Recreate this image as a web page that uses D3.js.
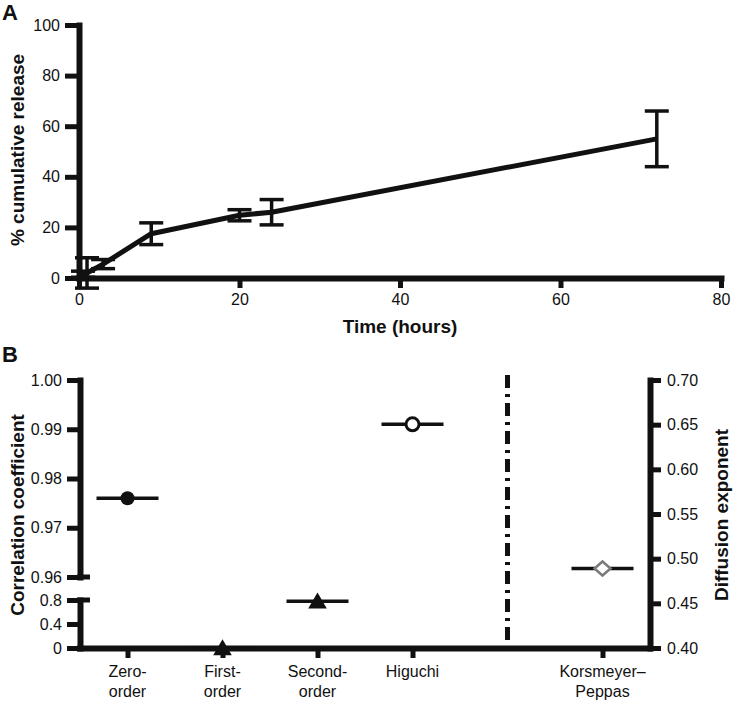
<!DOCTYPE html>
<html>
<head>
<meta charset="utf-8">
<script src="https://cdn.jsdelivr.net/npm/d3@7"></script>
<style>
  html, body { margin: 0; padding: 0; background: #fff; }
  svg text { font-family: "Liberation Sans", Arial, Helvetica, sans-serif; fill: #111; }
  svg .axis path.domain { stroke: #111; stroke-width: 6px; stroke-linecap: square; }
  svg .axis .tick line { stroke: #111; stroke-width: 5px; }
</style>
</head>
<body>
<svg id="chart" width="734" height="702"></svg>
<script>
// ---------- Panel A data ----------
const timeHours = [0, 0.5, 1, 3, 9, 20, 24, 72];
const releaseMean = [0, 1.5, 2, 5.5, 17.5, 24.8, 26, 55];
const releaseErr = [0, 1.2, 6, 1.8, 4.3, 2.2, 5, 11];
const xTicksA = [0, 20, 40, 60, 80];
const yTicksA = [0, 20, 40, 60, 80, 100];

// ---------- Panel B data ----------
const models = ["Zero-order", "First-order", "Second-order", "Higuchi", "Korsmeyer–Peppas"];
const modelLabels = [["Zero-", "order"], ["First-", "order"], ["Second-", "order"], ["Higuchi"], ["Korsmeyer–", "Peppas"]];
const correlation = [0.976, 0, 0.78, 0.991];      // zero, first, second, Higuchi
const diffusionExponent = [0.489];                 // Korsmeyer–Peppas
const yTicksHigh = [0.96, 0.97, 0.98, 0.99, 1.00];
const yTicksLow = [0, 0.4, 0.8];
const yTicksRight = [0.40, 0.45, 0.50, 0.55, 0.60, 0.65, 0.70];

const svg = d3.select("#chart");
const ink = "#111";

function styleAxis(g, fs) {
  g.attr("class", "axis");
  g.select(".domain").style("stroke", ink).style("stroke-width", "6px");
  g.selectAll(".tick line").style("stroke", ink).style("stroke-width", "5px");
  g.selectAll(".tick text").style("font-size", fs + "px").style("fill", ink)
    .style("font-family", '"Liberation Sans", Arial, Helvetica, sans-serif');
}

// ================= PANEL A =================
const xA = d3.scaleLinear([0, 80], [79, 721]);
const yA = d3.scaleLinear([0, 100], [278, 25]);
const gA = svg.append("g");

gA.append("g").attr("transform", "translate(0,278)")
  .call(d3.axisBottom(xA).tickValues(xTicksA).tickSize(10).tickSizeOuter(0).tickPadding(6).tickFormat(d3.format("d")))
  .call(g => styleAxis(g, 16));
gA.append("g").attr("transform", "translate(79,0)")
  .call(d3.axisLeft(yA).tickValues(yTicksA).tickSize(14).tickSizeOuter(0).tickPadding(5).tickFormat(d3.format("d")))
  .call(g => styleAxis(g, 16));

// line
const ptsA = timeHours.map((t, i) => ({ t, m: releaseMean[i], e: releaseErr[i] }));
gA.append("path").datum(ptsA)
  .style("fill", "none").style("stroke", ink).style("stroke-width", "5px").style("stroke-linejoin", "round")
  .attr("d", d3.line().x(d => xA(d.t)).y(d => yA(d.m)));

// error bars
const eb = gA.append("g").style("stroke", ink).style("stroke-width", "3.5px");
ptsA.filter(d => d.e > 0).forEach(d => {
  const cx = xA(d.t), top = yA(d.m + d.e), bot = yA(Math.max(d.m - d.e, -4));
  eb.append("line").attr("x1", cx).attr("x2", cx).attr("y1", top).attr("y2", bot);
  eb.append("line").attr("x1", cx - 12).attr("x2", cx + 12).attr("y1", top).attr("y2", top);
  eb.append("line").attr("x1", cx - 12).attr("x2", cx + 12).attr("y1", bot).attr("y2", bot);
});

gA.append("text").attr("x", 400).attr("y", 333).attr("text-anchor", "middle")
  .attr("font-size", 19).attr("font-weight", "bold").text("Time (hours)");
gA.append("text").attr("transform", "translate(24,150) rotate(-90)").attr("text-anchor", "middle")
  .attr("font-size", 19).attr("font-weight", "bold").text("% cumulative release");
svg.append("text").attr("x", 2).attr("y", 20).attr("font-size", 22).attr("font-weight", "bold").text("A");

// ================= PANEL B =================
const slots = ["Zero-order", "First-order", "Second-order", "Higuchi", "sep", "Korsmeyer–Peppas"];
const xB = d3.scalePoint(slots, [80, 650]).padding(0.5);
const yHi = d3.scaleLinear([0.96, 1.00], [577, 380]);
const yLo = d3.scaleLinear([0, 0.8], [648, 600]);
const yR = d3.scaleLinear([0.40, 0.70], [648, 380]);
const gB = svg.append("g");

// separator (drawn under axis)
gB.append("line").attr("x1", xB("sep")).attr("x2", xB("sep")).attr("y1", 375).attr("y2", 648)
  .style("stroke", ink).style("stroke-width", "5px").style("stroke-dasharray", "13,6,3,6");

// x axis
gB.append("g").attr("transform", "translate(0,648)")
  .call(d3.axisBottom(xB).tickValues(models).tickSize(10).tickSizeOuter(0).tickFormat(""))
  .call(g => styleAxis(g, 16))
  .call(g => g.select(".domain").attr("d", "M80,0.5H650"));

// category labels
modelLabels.forEach((lines, i) => {
  const t = gB.append("text").attr("x", xB(models[i])).attr("y", 677).attr("text-anchor", "middle").attr("font-size", 16);
  lines.forEach((s, j) => t.append("tspan").attr("x", xB(models[i])).attr("dy", j === 0 ? 0 : 20).text(s));
});

// left axis (broken)
gB.append("g").attr("transform", "translate(80,0)")
  .call(d3.axisLeft(yHi).tickValues(yTicksHigh).tickSize(13).tickSizeOuter(0).tickPadding(5).tickFormat(d3.format(".2f")))
  .call(g => styleAxis(g, 16));
gB.append("g").attr("transform", "translate(80,0)")
  .call(d3.axisLeft(yLo).tickValues(yTicksLow).tickSize(13).tickSizeOuter(0).tickPadding(5).tickFormat(d => d === 0 ? "0" : d3.format(".1f")(d)))
  .call(g => styleAxis(g, 16));
// break caps
gB.append("line").attr("x1", 77).attr("x2", 90).attr("y1", yHi(0.96)).attr("y2", yHi(0.96)).style("stroke", ink).style("stroke-width", "5px");
gB.append("line").attr("x1", 77).attr("x2", 90).attr("y1", yLo(0.8)).attr("y2", yLo(0.8)).style("stroke", ink).style("stroke-width", "5px");

// right axis
gB.append("g").attr("transform", "translate(650,0)")
  .call(d3.axisRight(yR).tickValues(yTicksRight).tickSize(11).tickSizeOuter(0).tickPadding(6).tickFormat(d3.format(".2f")))
  .call(g => styleAxis(g, 16));

// markers
const yCorr = v => v >= 0.96 ? yHi(v) : yLo(v);
const mean = gB.append("g").style("stroke", ink).style("stroke-width", "3.5px");
function meanLine(x, y) {
  mean.append("line").attr("x1", x - 31).attr("x2", x + 31).attr("y1", y).attr("y2", y);
}
// zero-order
{
  const x = xB(models[0]), y = yCorr(correlation[0]);
  meanLine(x, y);
  gB.append("circle").attr("cx", x).attr("cy", y).attr("r", 7).style("fill", ink);
}
// first-order & second-order triangles
[1, 2].forEach(i => {
  const x = xB(models[i]), y = yCorr(correlation[i]);
  meanLine(x, y);
  gB.append("path").attr("transform", `translate(${x},${y + 2})`)
    .attr("d", d3.symbol(d3.symbolTriangle, 150)()).style("fill", ink);
});
// Higuchi
{
  const x = xB(models[3]), y = yCorr(correlation[3]);
  meanLine(x, y);
  gB.append("circle").attr("cx", x).attr("cy", y).attr("r", 6.5).style("fill", "#fff").style("stroke", ink).style("stroke-width", "3px");
}
// Korsmeyer–Peppas
{
  const x = xB(models[4]), y = yR(diffusionExponent[0]);
  meanLine(x, y);
  gB.append("path").attr("transform", `translate(${x},${y})`)
    .attr("d", "M0,-7L8,0L0,7L-8,0Z").style("fill", "#fff").style("stroke", "#7a7a7a").style("stroke-width", "2.5px");
}

gB.append("text").attr("transform", "translate(24,515) rotate(-90)").attr("text-anchor", "middle")
  .attr("font-size", 19).attr("font-weight", "bold").text("Correlation coefficient");
gB.append("text").attr("transform", "translate(728,515) rotate(-90)").attr("text-anchor", "middle")
  .attr("font-size", 19).attr("font-weight", "bold").text("Diffusion exponent");
svg.append("text").attr("x", 2).attr("y", 362).attr("font-size", 22).attr("font-weight", "bold").text("B");
</script>
</body>
</html>
